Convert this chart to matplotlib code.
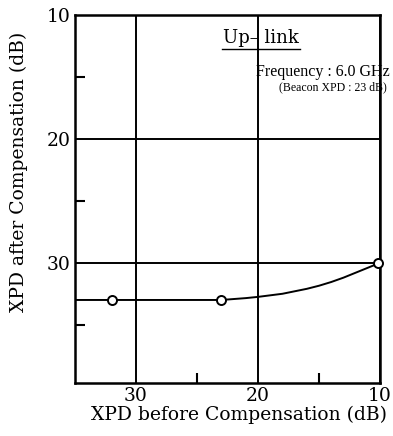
import matplotlib.pyplot as plt
import numpy as np

plt.rcParams['font.family'] = ['DejaVu Serif']

# measured points (markers)
x_pts = np.array([32, 23, 10.2])
y_pts = np.array([33, 33, 30])

# curve through the points
x_line = np.array([35, 32, 28, 23, 21, 20, 18, 16, 15, 14, 13, 12, 11, 10.5, 10.2])
y_line = np.array([33, 33, 33, 33, 32.85, 32.75, 32.5, 32.1, 31.85, 31.55, 31.2, 30.8, 30.4, 30.2, 30])

fig = plt.figure(figsize=(3.93, 4.36), dpi=100)
ax = fig.add_axes([0.191, 0.1216, 0.776, 0.844])

ax.plot(x_line, y_line, color='black', lw=1.4, zorder=3)
ax.plot(x_pts, y_pts, 'o', mfc='white', mec='black', ms=6.5, mew=1.4, zorder=4, clip_on=False)

ax.set_xlim(35, 10)
ax.set_ylim(39.7, 10)
ax.set_xticks([30, 20, 10])
ax.set_xticks([25, 15], minor=True)
ax.set_yticks([10, 20, 30])
ax.set_yticks([15, 25, 35], minor=True)
ax.grid(True, which='major', color='black', lw=1.4)
ax.tick_params(which='both', direction='in', labelsize=13.5, length=0, pad=3)
ax.tick_params(which='minor', length=7, width=1.5)
for s in ax.spines.values():
    s.set_linewidth(1.8)

ax.set_xlabel('XPD before Compensation (dB)', fontsize=13.5)
ax.set_ylabel('XPD after Compensation (dB)', fontsize=13.5)
ax.xaxis.set_label_coords(0.538, -0.063)
ax.yaxis.set_label_coords(-0.155, 0.573)

ax.text(0.61, 0.9375, 'Up\u2013 link', transform=ax.transAxes, fontsize=13,
        ha='center', va='center')
ax.plot([0.482, 0.738], [0.908, 0.908], transform=ax.transAxes, color='black', lw=1)
ax.text(1.033, 0.845, 'Frequency : 6.0 GHz', transform=ax.transAxes, fontsize=11.5,
        ha='right', va='center', clip_on=False, family='Liberation Serif')
ax.text(1.023, 0.804, '(Beacon XPD : 23 dB)', transform=ax.transAxes, fontsize=8.5,
        ha='right', va='center', clip_on=False, family='Liberation Serif')

fig.savefig('out.png', dpi=100)
